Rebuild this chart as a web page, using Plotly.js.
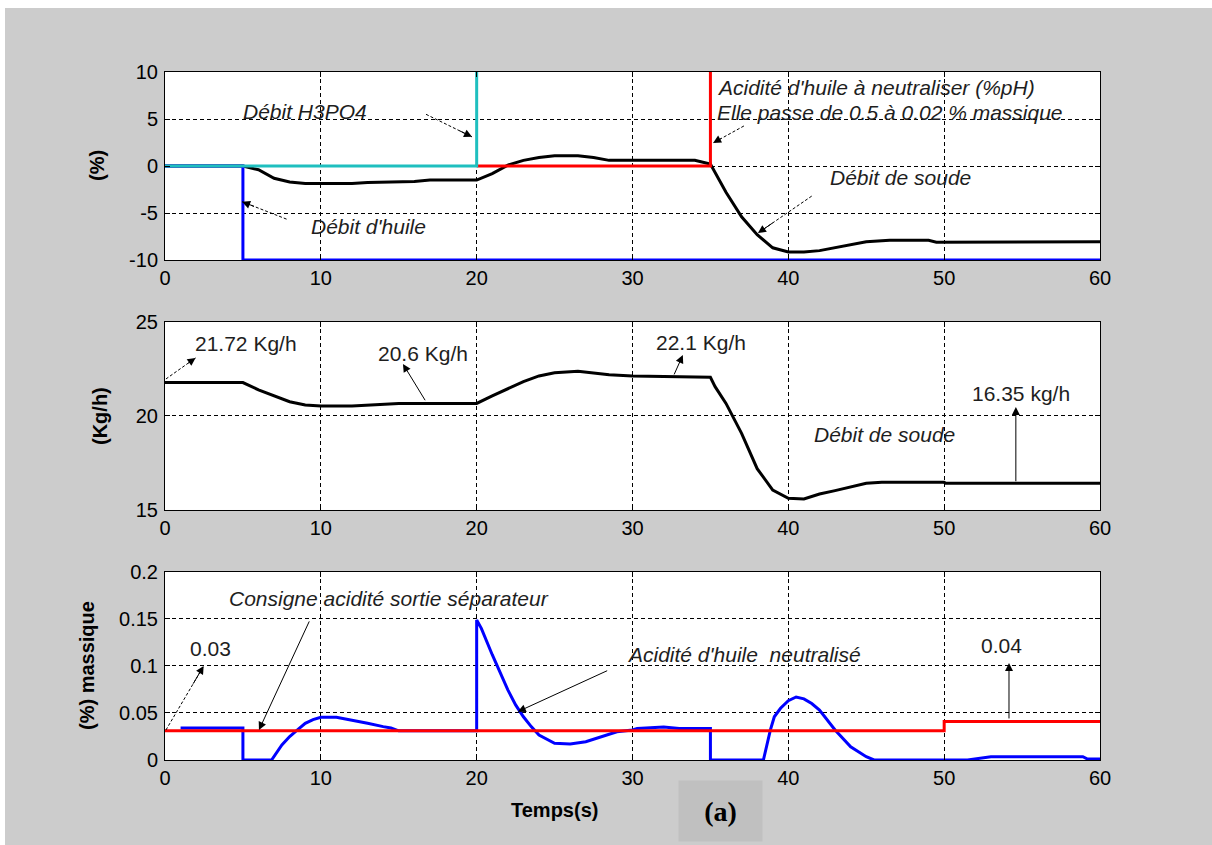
<!DOCTYPE html>
<html><head><meta charset="utf-8">
<script src="https://cdn.plot.ly/plotly-3.0.1.min.js"></script>
<style>
html,body{margin:0;padding:0;background:#ffffff;}
#bg{position:absolute;left:5px;top:8px;width:1207px;height:837px;background:#cccccc;}
#chart{position:absolute;left:0;top:0;width:1212px;height:845px;}
</style></head><body>
<div id="bg"></div><div id="chart"></div>
<script>
// ---------- DATA ----------
// Top panel (%): variations of the flows
const tH3PO4 = [0, 20, 20, 60];
const yH3PO4 = [0, 0, 12, 12];
const tAcidIn = [20, 35, 35, 60];
const yAcidIn = [0, 0, 12, 12];
const tHuile = [0, 5, 5, 60];
const yHuile = [0, 0, -10, -10];
const tSoudePct = [0,5,6,7,8,9,10,12,13,16,17,20,21,22,23,24,25,26.5,27.5,28.5,34,35,36,37,38,39,40,41,42,44,45,46.5,49,49.5,60];
const ySoudePct = [0,0,-0.4,-1.3,-1.7,-1.85,-1.85,-1.85,-1.75,-1.65,-1.5,-1.5,-0.8,0.1,0.6,0.9,1.1,1.1,0.9,0.6,0.6,0.2,-2.8,-5.4,-7.3,-8.7,-9.15,-9.15,-9.0,-8.4,-8.05,-7.9,-7.9,-8.1,-8.05];
// Middle panel (Kg/h): soda flow
const tSoude = [0,5,6,7,8,9,10,12,13,15,17,20,21,22,23,24,25,26.5,27.5,28.5,30,32,35,35.3,36,37,38,39,40,41,42,43,44,45,46,50,50.1,60];
const ySoude = [21.78,21.78,21.39,21.07,20.76,20.59,20.53,20.53,20.57,20.67,20.67,20.67,21.07,21.47,21.83,22.13,22.3,22.38,22.3,22.2,22.13,22.09,22.06,21.56,20.67,19.08,17.2,16.06,15.62,15.59,15.85,16.03,16.24,16.42,16.47,16.47,16.42,16.42];
// Bottom panel (% massique): neutralised oil acidity and setpoint
const tAcidOut = [1,5,5,6.84,7.5,8,8.5,9,9.5,10,11,12,13,14,14.5,15,20,20,20.3,21,22,22.5,23,23.5,24,25,26,27,28,29,30,30.3,32,33,35,35,38.4,38.6,38.85,39.1,39.5,40,40.5,41,41.5,42,43,44,45,45.5,51.5,53,58.9,59.2,60];
const yAcidOut = [0.034,0.034,0,0,0.016,0.025,0.032,0.039,0.043,0.0455,0.0455,0.0426,0.039,0.0355,0.034,0.031,0.031,0.149,0.140,0.112,0.0746,0.0586,0.046,0.0355,0.0266,0.0178,0.017,0.0195,0.025,0.03,0.032,0.0335,0.035,0.0335,0.0335,0,0,0.014,0.032,0.046,0.055,0.063,0.067,0.065,0.060,0.053,0.032,0.014,0.0035,0,0,0.0035,0.0035,0.001,0.001];
const tConsigne = [0, 50, 50, 60];
const yConsigne = [0.031, 0.031, 0.041, 0.041];
// Tick labels
const xTicks = [0,10,20,30,40,50,60];
const topTicks = [-10,-5,0,5,10];
const topTickText = ['-10','-5','0','5','10'];
const midTicks = [15,20,25];
const botTicks = [0,0.05,0.1,0.15,0.2];
const botTickText = ['0','0.05','0.1','0.15','0.2'];

// ---------- STYLE ----------
const FONT = 'Liberation Sans, Arial, sans-serif';
const TXT = '#1e1e1e';
function xa(anchor){
  return {range:[0,60], tickvals:xTicks, ticktext:xTicks.map(String), anchor:anchor,
    showgrid:true, gridcolor:'#000', griddash:'4px,3px', gridwidth:1,
    showline:true, linecolor:'#000', linewidth:1, mirror:'ticks',
    ticks:'inside', ticklen:5, tickcolor:'#000', zeroline:false,
    tickfont:{family:FONT, size:20, color:'#000'}, fixedrange:true};
}
function ya(anchor, domain, range, vals, text){
  return {domain:domain, range:range, tickvals:vals, ticktext:text, anchor:anchor,
    showgrid:true, gridcolor:'#000', griddash:'4px,3px', gridwidth:1,
    showline:true, linecolor:'#000', linewidth:1, mirror:'ticks',
    ticks:'inside', ticklen:5, tickcolor:'#000', zeroline:false, ticklabelstandoff:2,
    tickfont:{family:FONT, size:20, color:'#000'}, fixedrange:true};
}
const traces = [
  {x:tSoudePct, y:ySoudePct, xaxis:'x', yaxis:'y', mode:'lines', line:{color:'#000', width:3}},
  {x:tAcidIn, y:yAcidIn, xaxis:'x', yaxis:'y', mode:'lines', line:{color:'#ff0000', width:3}},
  {x:tHuile, y:yHuile, xaxis:'x', yaxis:'y', mode:'lines', line:{color:'#0000ff', width:3}},
  {x:tH3PO4, y:yH3PO4, xaxis:'x', yaxis:'y', mode:'lines', line:{color:'#1fbfbf', width:3}},
  {x:tSoude, y:ySoude, xaxis:'x2', yaxis:'y2', mode:'lines', line:{color:'#000', width:3}},
  {x:tAcidOut, y:yAcidOut, xaxis:'x3', yaxis:'y3', mode:'lines', line:{color:'#0000ff', width:3}},
  {x:tConsigne, y:yConsigne, xaxis:'x3', yaxis:'y3', mode:'lines', line:{color:'#ff0000', width:3}}
];
function txt(s, xr, yr, x, y, opt){
  opt = opt || {};
  return Object.assign({text:s, xref:xr, yref:yr, x:x, y:y, showarrow:false,
    xanchor:'center', yanchor:'middle',
    font:{family:FONT, size:21, color:TXT, style: opt.italic ? 'italic':'normal'}}, opt.extra||{});
}
const shapes = [];
// arrow: solid head; optionally a dashed shaft drawn as a shape
function arr(xr, yr, x, y, ax, ay, dashed){
  let sx = ax, sy = ay;
  if(dashed){
    shapes.push({type:'line', xref:xr, yref:yr, x0:ax, y0:ay, x1:x, y1:y,
      line:{color:'#000', width:1, dash:'3px,2px'}});
    sx = x + (ax - x) * 0.3; sy = y + (ay - y) * 0.3;
  }
  return {text:'', xref:xr, yref:yr, axref:xr, ayref:yr, x:x, y:y, ax:sx, ay:sy,
    showarrow:true, arrowhead:2, arrowsize:1.6, arrowwidth:1, arrowcolor:'#000', standoff:0, startstandoff:0};
}
const annotations = [
  txt('Débit H3PO4','x','y',8.98,5.85,{italic:true}),
  txt("Débit d'huile",'x','y',13.03,-6.38,{italic:true}),
  txt("Acidité d'huile à neutraliser (%pH)",'x','y',35.3,8.3,{italic:true, extra:{xanchor:'left'}}),
  txt('Elle passe de 0.5 à 0.02 % massique','x','y',35.3,5.74,{italic:true, extra:{xanchor:'left'}}),
  txt('Débit de soude','x','y',47.17,-1.17,{italic:true}),
  arr('x','y',19.7,3.1,16.75,5.5,true),
  arr('x','y',4.95,-3.8,7.8,-5.65,true),
  arr('x','y',35.17,2.45,37.15,4.26,true),
  arr('x','y',38.05,-7.13,41.5,-3.2,true),
  txt('21.72 Kg/h','x2','y2',5.2,23.88),
  txt('20.6 Kg/h','x2','y2',16.56,23.35),
  txt('22.1 Kg/h','x2','y2',34.4,23.9),
  txt('16.35 kg/h','x2','y2',54.93,21.22),
  txt('Débit de soude','x2','y2',46.14,18.99,{italic:true}),
  arr('x2','y2',1.96,23.09,0.06,21.97,true),
  arr('x2','y2',15.27,22.77,16.75,20.76,false),
  arr('x2','y2',33.23,23.24,32.63,22.13,false),
  arr('x2','y2',54.6,20.48,54.6,16.45,false),
  txt('Consigne acidité sortie séparateur','x3','y3',14.37,0.1723,{italic:true}),
  txt('0.03','x3','y3',2.95,0.119),
  txt("Acidité d'huile  neutralisé",'x3','y3',37.16,0.1117,{italic:true}),
  txt('0.04','x3','y3',53.65,0.1213),
  arr('x3','y3',6.03,0.0319,9.3,0.149,false),
  arr('x3','y3',2.48,0.1,0.06,0.0319,true),
  arr('x3','y3',22.64,0.0514,28.47,0.0957,false),
  arr('x3','y3',54.16,0.1032,54.16,0.0426,false),
  // axis titles
  {text:'<b>(%)</b>', xref:'paper', yref:'paper', x:(97-165)/935, y:(760-166)/688, textangle:-90, showarrow:false,
   xanchor:'center', yanchor:'middle', font:{family:FONT, size:20, color:'#000'}},
  {text:'<b>(Kg/h)</b>', xref:'paper', yref:'paper', x:(100-165)/935, y:(760-416)/688, textangle:-90, showarrow:false,
   xanchor:'center', yanchor:'middle', font:{family:FONT, size:20, color:'#000'}},
  {text:'<b>(%) massique</b>', xref:'paper', yref:'paper', x:(87-165)/935, y:(760-666)/688, textangle:-90, showarrow:false,
   xanchor:'center', yanchor:'middle', font:{family:FONT, size:20, color:'#000'}},
  {text:'<b>Temps(s)</b>', xref:'paper', yref:'paper', x:(554-165)/935, y:(760-810)/688, showarrow:false,
   xanchor:'center', yanchor:'middle', font:{family:FONT, size:20, color:'#000'}},
  {text:'<b>(a)</b>', xref:'paper', yref:'paper', x:(720.5-165)/935, y:(760-811)/688, showarrow:false,
   xanchor:'center', yanchor:'middle', width:83, height:60, bgcolor:'#c0c0c0', borderpad:0,
   font:{family:'Liberation Serif, Times New Roman, serif', size:28, color:'#000'}}
];
const layout = {
  width:1212, height:845, showlegend:false,
  paper_bgcolor:'rgba(0,0,0,0)', plot_bgcolor:'#ffffff',
  margin:{l:165, r:112, t:72, b:85},
  xaxis: xa('y'), xaxis2: xa('y2'), xaxis3: xa('y3'),
  yaxis: ya('x', [0.7267,1], [-10,10], topTicks, topTickText),
  yaxis2: ya('x2', [0.3634,0.6366], [15,25], midTicks, midTicks.map(String)),
  yaxis3: ya('x3', [0,0.2733], [0,0.2], botTicks, botTickText),
  annotations: annotations,
  shapes: shapes
};
Plotly.newPlot('chart', traces, layout, {displayModeBar:false, staticPlot:true});
</script>
</body></html>
